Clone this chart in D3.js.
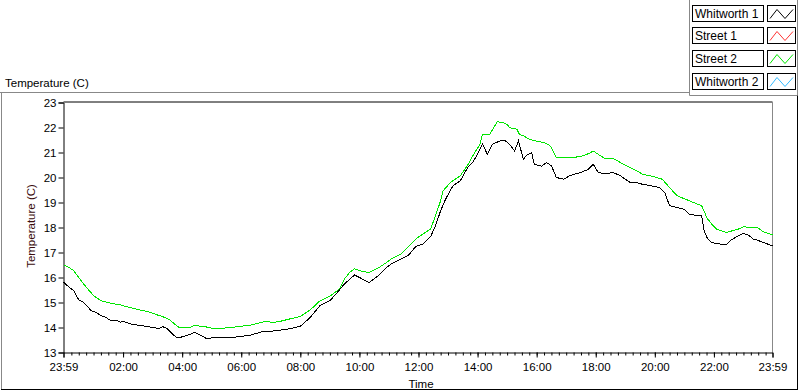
<!DOCTYPE html>
<html>
<head>
<meta charset="utf-8">
<script src="https://cdn.jsdelivr.net/npm/d3@7"></script>
<style>
  body { margin: 0; background: #fff; }
  svg { display: block; font-family: "Liberation Sans", Arial, sans-serif; }
</style>
</head>
<body>
<svg id="chart" width="800" height="392"></svg>
<script>
// legend entries (Street 1 and Whitworth 2 have no data drawn)
const seriesNames = ["Whitworth 1", "Street 1", "Street 2", "Whitworth 2"];
const seriesColors = ["#000000", "#ff3333", "#00e600", "#33bbff"];

const whitworth1Times = ["23:59","00:10","00:20","00:30","00:40","00:55","01:05","01:15","01:25","01:35","01:45","01:55","02:00","02:10","02:20","02:35","02:50","03:00","03:15","03:20","03:30","03:40","03:50","03:55","04:10","04:25","04:35","04:50","05:05","05:20","05:45","06:00","06:20","06:40","07:00","07:20","07:40","08:00","08:20","08:40","09:00","09:15","09:30","09:50","10:05","10:20","10:40","10:55","11:05","11:25","11:40","11:55","12:10","12:25","12:35","12:45","12:55","13:10","13:25","13:40","13:50","14:00","14:10","14:20","14:30","14:45","14:55","15:05","15:15","15:23","15:33","15:40","15:50","15:55","16:10","16:20","16:30","16:40","16:55","17:05","17:15","17:30","17:45","17:55","18:05","18:20","18:35","18:50","19:10","19:25","19:35","19:55","20:10","20:20","20:30","20:45","21:00","21:10","21:20","21:35","21:40","21:47","21:55","22:10","22:25","22:35","22:50","23:00","23:10","23:20","23:30","23:40","23:59"];
const whitworth1Temps = [15.81,15.62,15.47,15.1,15.0,14.68,14.6,14.48,14.4,14.28,14.3,14.21,14.25,14.18,14.12,14.08,14.04,13.99,13.97,14.04,13.95,13.74,13.59,13.6,13.68,13.8,13.72,13.55,13.6,13.58,13.61,13.64,13.7,13.82,13.85,13.9,13.95,14.05,14.4,14.88,15.07,15.4,15.75,16.1,15.95,15.8,16.1,16.4,16.55,16.75,16.9,17.25,17.35,17.65,18.1,18.67,19.13,19.67,19.87,20.4,20.6,20.93,21.33,20.93,21.33,21.46,21.49,21.33,21.06,21.46,20.73,20.9,20.99,20.53,20.45,20.6,20.47,20.0,19.93,20.05,20.13,20.2,20.33,20.53,20.2,20.15,20.2,20.07,19.8,19.78,19.73,19.66,19.6,19.4,18.87,18.8,18.73,18.54,18.5,18.47,17.87,17.55,17.4,17.35,17.3,17.5,17.67,17.76,17.7,17.54,17.48,17.4,17.27];

const street2Times = ["23:59","00:10","00:20","00:30","00:40","00:50","01:00","01:15","01:30","01:40","01:55","02:10","02:20","02:35","02:55","03:10","03:20","03:35","03:50","03:55","04:15","04:25","04:45","05:05","05:20","05:40","06:00","06:20","06:35","06:50","07:05","07:20","07:40","08:00","08:20","08:40","09:00","09:20","09:30","09:40","09:50","10:05","10:20","10:40","10:55","11:05","11:25","11:40","11:55","12:10","12:25","12:35","12:45","12:50","13:05","13:25","13:40","13:50","14:05","14:10","14:25","14:40","14:50","15:00","15:05","15:20","15:25","15:35","15:45","16:00","16:15","16:25","16:30","16:40","17:00","17:15","17:30","17:45","17:55","18:10","18:20","18:35","18:50","19:10","19:25","19:35","19:55","20:15","20:30","20:45","21:00","21:10","21:35","21:40","21:45","21:55","22:05","22:25","22:50","23:00","23:15","23:30","23:40","23:59"];
const street2Temps = [16.51,16.4,16.27,16.0,15.74,15.5,15.28,15.07,15.0,14.95,14.9,14.82,14.77,14.7,14.61,14.5,14.44,14.3,14.05,13.99,14.0,14.08,14.04,13.95,13.97,14.0,14.05,14.1,14.17,14.25,14.2,14.25,14.35,14.44,14.7,15.07,15.25,15.55,15.95,16.2,16.35,16.25,16.2,16.4,16.6,16.75,16.95,17.25,17.55,17.75,17.95,18.5,19.07,19.47,19.8,20.07,20.5,20.86,21.33,21.73,21.73,22.23,22.2,22.13,21.99,21.93,21.73,21.65,21.53,21.45,21.4,21.3,21.2,20.8,20.8,20.8,20.85,20.95,21.06,20.86,20.75,20.77,20.6,20.4,20.25,20.13,20.05,19.93,19.6,19.27,19.15,19.07,18.87,18.67,18.4,18.15,17.94,17.8,17.94,18.03,18.0,17.98,17.83,17.7];

const yTicks = [13,14,15,16,17,18,19,20,21,22,23];
const xMajorLabels = ["02:00","04:00","06:00","08:00","10:00","12:00","14:00","16:00","18:00","20:00","22:00"];

// first "23:59" is the previous day, the rest are on the day plotted
function toDate(s, i) {
  const [h, m] = s.split(":").map(Number);
  return new Date(2000, 0, i === 0 ? 1 : 2, h, m);
}
function makeSeries(times, temps) {
  return times.map((t, i) => ({ t: toDate(t, i), v: temps[i] }));
}

const svg = d3.select("#chart");
const plotLeft = 63.5, plotRight = 772.5, plotTop = 102.5, plotBottom = 352.5;

const startDate = new Date(2000, 0, 1, 23, 59);
const endDate = new Date(2000, 0, 2, 23, 59);
const x = d3.scaleTime().domain([startDate, endDate]).range([plotLeft, plotRight]);
const y = d3.scaleLinear().domain([13, 23]).range([plotBottom, plotTop]);

// panel frame
svg.append("line").attr("x1", 0).attr("x2", 689.5).attr("y1", 92.5).attr("y2", 92.5).attr("stroke", "#888");
svg.append("line").attr("x1", 1.5).attr("x2", 1.5).attr("y1", 92.5).attr("y2", 390).attr("stroke", "#888");
svg.append("line").attr("x1", 1).attr("x2", 798).attr("y1", 389.5).attr("y2", 389.5).attr("stroke", "#000");
svg.append("line").attr("x1", 797.5).attr("x2", 797.5).attr("y1", 95).attr("y2", 390).attr("stroke", "#000");

// legend panel
svg.append("path").attr("d", "M689.5,0V95.5H797.5V0").attr("fill", "none").attr("stroke", "#888");

const legend = svg.append("g");
seriesNames.forEach((name, i) => {
  const ty = 4.5 + i * 22.8;
  const row = legend.append("g").attr("transform", `translate(0,${Math.round(ty) + 0.5})`);
  row.append("rect").attr("x", 692.5).attr("y", 0).attr("width", 71).attr("height", 16)
    .attr("fill", "#fff").attr("stroke", "#000");
  row.append("text").attr("x", 695).attr("y", 12.5).attr("font-size", "12px").text(name);
  row.append("rect").attr("x", 767.5).attr("y", 0).attr("width", 28).attr("height", 16)
    .attr("fill", "#fff").attr("stroke", "#000");
  row.append("path").attr("d", "M770,13L777,4L785,13L793,4")
    .attr("fill", "none").attr("stroke", seriesColors[i]).attr("stroke-width", 1);
});

// top label
svg.append("text").attr("x", 5).attr("y", 87).attr("font-size", "11.5px").text("Temperature (C)");

// plot border (top black, right gray)
svg.append("line").attr("x1", plotLeft).attr("x2", plotRight).attr("y1", plotTop - 0.5).attr("y2", plotTop - 0.5).attr("stroke", "#000");
svg.append("line").attr("x1", plotRight).attr("x2", plotRight).attr("y1", plotTop - 0.5).attr("y2", plotBottom).attr("stroke", "#888");

// y axis
const yAxis = svg.append("g").attr("transform", `translate(${plotLeft},0)`)
  .call(d3.axisLeft(y).tickValues(yTicks).tickSize(5).tickPadding(2).tickFormat(d3.format("d")));
yAxis.select(".domain").attr("stroke", "#000");
yAxis.selectAll("text").attr("font-size", "11.5px").attr("font-family", "Liberation Sans, Arial, sans-serif").attr("fill", "#000");

// x axis: minor ticks every 15 min, then majors
const minorTicks = d3.timeMinute.every(15).range(new Date(2000, 0, 2, 0, 15), endDate);
svg.append("g").attr("transform", `translate(0,${plotBottom})`)
  .call(d3.axisBottom(x).tickValues(minorTicks).tickSize(3).tickFormat(""))
  .call(g => g.select(".domain").remove());

const majorTicks = [startDate].concat(xMajorLabels.map(s => toDate(s, 1))).concat([endDate]);
const xAxis = svg.append("g").attr("transform", `translate(0,${plotBottom})`)
  .call(d3.axisBottom(x).tickValues(majorTicks).tickSize(5).tickPadding(5).tickFormat(d3.timeFormat("%H:%M")));
xAxis.select(".domain").attr("stroke", "#000");
xAxis.selectAll("text").attr("font-size", "11.5px").attr("font-family", "Liberation Sans, Arial, sans-serif").attr("fill", "#000");

// axis titles
svg.append("text").attr("x", 421).attr("y", 388).attr("text-anchor", "middle").attr("font-size", "11.5px").text("Time");
svg.append("text").attr("transform", "translate(35,226) rotate(-90)").attr("text-anchor", "middle")
  .attr("font-size", "11.5px").attr("fill", "#3a0c0c").text("Temperature (C)");

// data lines
const line = d3.line().x(d => x(d.t)).y(d => y(d.v));
const plotted = [
  { data: makeSeries(street2Times, street2Temps), color: seriesColors[2] },
  { data: makeSeries(whitworth1Times, whitworth1Temps), color: seriesColors[0] }
];
plotted.forEach(s => {
  svg.append("path").datum(s.data).attr("d", line)
    .attr("fill", "none").attr("stroke", s.color).attr("stroke-width", 1)
    .attr("shape-rendering", "crispEdges");
});
</script>
</body>
</html>
